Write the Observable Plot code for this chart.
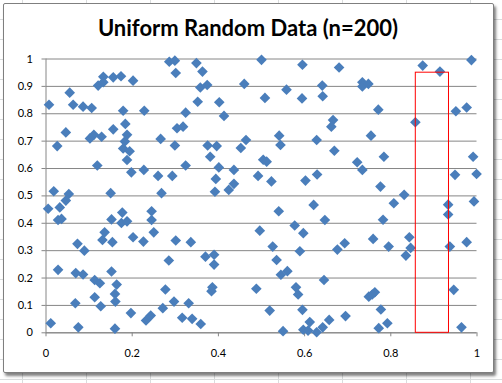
<!DOCTYPE html>
<html><head><meta charset="utf-8">
<script src="https://cdn.jsdelivr.net/npm/d3@7"></script>
<script src="https://cdn.jsdelivr.net/npm/@observablehq/plot@0.6"></script>
<style>
html,body{margin:0;padding:0;width:502px;height:383px;overflow:hidden;background:#fff;}
body{position:relative;
 background-image:
  repeating-linear-gradient(to right, transparent 0 22px, #dadcdd 22px 23px, transparent 23px 64px),
  repeating-linear-gradient(to bottom, transparent 0 19px, #dadcdd 19px 20px);
}
#frame{position:absolute;left:3px;top:3px;width:489px;height:368px;border:1px solid #7f7f7f;background:#fff;box-shadow:2px 3px 3px rgba(0,0,0,0.5);border-radius:2px;}
#title{position:absolute;left:0;top:14px;width:496px;text-align:center;font-family:Lato, "Open Sans", sans-serif;font-weight:bold;font-size:22px;color:#000;}
#chart{position:absolute;left:0;top:45px;}
#chart svg{overflow:visible;background:transparent;}
</style>
</head><body>
<div id="frame"></div>
<div id="title">Uniform Random Data (n=200)</div>
<div id="chart"></div>
<script>
const xValues = [
0.133,0.156,0.174,0.202,0.121,0.133,0.055,0.007,0.063,0.086,
0.106,0.179,0.228,0.184,0.046,0.156,0.188,0.111,0.102,0.129,
0.183,0.026,0.179,0.194,0.188,0.119,0.198,0.227,0.018,0.053,
0.150,0.005,0.032,0.046,0.028,0.036,0.177,0.152,0.175,0.188,
0.245,0.245,0.136,0.131,0.154,0.202,0.226,0.073,0.089,0.028,
0.069,0.086,0.152,0.113,0.125,0.164,0.160,0.161,0.068,0.113,
0.127,0.197,0.232,0.243,0.011,0.075,0.160,0.271,0.297,0.316,
0.339,0.331,0.359,0.286,0.299,0.349,0.500,0.301,0.363,0.358,
0.374,0.460,0.508,0.352,0.402,0.324,0.413,0.304,0.318,0.266,
0.299,0.375,0.396,0.464,0.452,0.381,0.504,0.512,0.324,0.401,
0.436,0.260,0.293,0.394,0.492,0.436,0.424,0.392,0.268,0.250,
0.301,0.336,0.496,0.285,0.370,0.390,0.390,0.277,0.386,0.384,
0.488,0.595,0.680,0.734,0.734,0.748,0.558,0.641,0.594,0.642,
0.666,0.662,0.541,0.544,0.628,0.754,0.669,0.722,0.734,0.523,
0.602,0.629,0.540,0.621,0.647,0.577,0.597,0.526,0.589,0.676,
0.693,0.759,0.535,0.545,0.560,0.580,0.585,0.645,0.749,0.519,
0.595,0.612,0.657,0.695,0.642,0.550,0.597,0.608,0.628,0.987,
0.874,0.914,0.771,0.951,0.976,0.857,0.784,0.991,0.949,0.999,
0.776,0.831,0.807,0.993,0.933,0.933,0.782,0.843,0.795,0.846,
0.835,0.937,0.976,0.763,0.757,0.946,0.777,0.792,0.772,0.964
];
const yValues = [
0.935,0.933,0.937,0.921,0.903,0.915,0.877,0.833,0.833,0.826,
0.821,0.811,0.811,0.763,0.732,0.743,0.723,0.723,0.710,0.716,
0.699,0.682,0.673,0.663,0.631,0.611,0.586,0.595,0.517,0.507,
0.510,0.453,0.458,0.483,0.412,0.416,0.439,0.414,0.401,0.407,
0.444,0.412,0.367,0.339,0.331,0.349,0.333,0.325,0.300,0.230,
0.218,0.213,0.224,0.193,0.181,0.176,0.142,0.114,0.108,0.130,
0.097,0.072,0.045,0.063,0.035,0.020,0.015,0.090,0.114,0.055,
0.051,0.108,0.032,0.990,0.994,0.985,0.997,0.949,0.954,0.896,
0.905,0.909,0.858,0.844,0.842,0.804,0.792,0.747,0.753,0.708,
0.684,0.684,0.682,0.704,0.675,0.643,0.632,0.625,0.611,0.604,
0.595,0.573,0.573,0.562,0.573,0.544,0.522,0.515,0.510,0.367,
0.337,0.331,0.373,0.264,0.278,0.285,0.249,0.158,0.166,0.152,
0.161,0.979,0.969,0.915,0.900,0.909,0.888,0.903,0.856,0.864,
0.777,0.753,0.720,0.686,0.704,0.720,0.665,0.623,0.595,0.553,
0.556,0.578,0.444,0.467,0.412,0.392,0.364,0.315,0.298,0.304,
0.327,0.343,0.266,0.212,0.225,0.166,0.140,0.193,0.132,0.081,
0.084,0.039,0.047,0.061,0.020,0.006,0.011,0.008,0.002,0.996,
0.976,0.954,0.815,0.809,0.823,0.769,0.643,0.643,0.577,0.580,
0.534,0.504,0.473,0.480,0.468,0.432,0.413,0.349,0.315,0.310,
0.282,0.315,0.331,0.148,0.140,0.157,0.085,0.035,0.017,0.020
];
const xTicks = [0, 0.2, 0.4, 0.6, 0.8, 1];
const yTicks = [0, 0.1, 0.2, 0.3, 0.4, 0.5, 0.6, 0.7, 0.8, 0.9, 1];
const highlightX = [0.858, 0.935];
const highlightY = [0, 0.95];

const points = xValues.map((x, i) => ({x, y: yValues[i]}));
const box = [{x1: highlightX[0], x2: highlightX[1], y1: highlightY[0], y2: highlightY[1]}];
const fmt = d => String(+d.toFixed(1));

const chart = Plot.plot({
  width: 502,
  height: 330,
  marginLeft: 45.5,
  marginRight: 25.5,
  marginTop: 13.5,
  marginBottom: 42.7,
  style: {fontFamily: "Lato, 'Open Sans', sans-serif", fontSize: "11px", color: "#000", background: "transparent"},
  x: {domain: [0, 1]},
  y: {domain: [0, 1]},
  marks: [
    Plot.gridY(yTicks, {stroke: "#868686", strokeOpacity: 1, strokeWidth: 1}),
    Plot.ruleX([0], {stroke: "#868686", strokeWidth: 1}),
    Plot.ruleY([0], {stroke: "#868686", strokeWidth: 1}),
    Plot.axisY(yTicks, {tickSize: 4, tickPadding: 9, stroke: "#868686", fill: "#000", tickFormat: fmt, label: null, fontSize: 11}),
    Plot.axisX(xTicks, {tickSize: 4, tickPadding: 12, stroke: "#868686", fill: "#000", tickFormat: fmt, label: null, fontSize: 11}),
    Plot.dot(points, {x: "x", y: "y", symbol: "diamond2", r: 4.8, fill: "#4a7ebb", stroke: "none"}),
    Plot.rect(box, {x1: "x1", x2: "x2", y1: "y1", y2: "y2", fill: "none", stroke: "#ff0000", strokeWidth: 1})
  ]
});
document.getElementById("chart").appendChild(chart);
</script>
</body></html>
